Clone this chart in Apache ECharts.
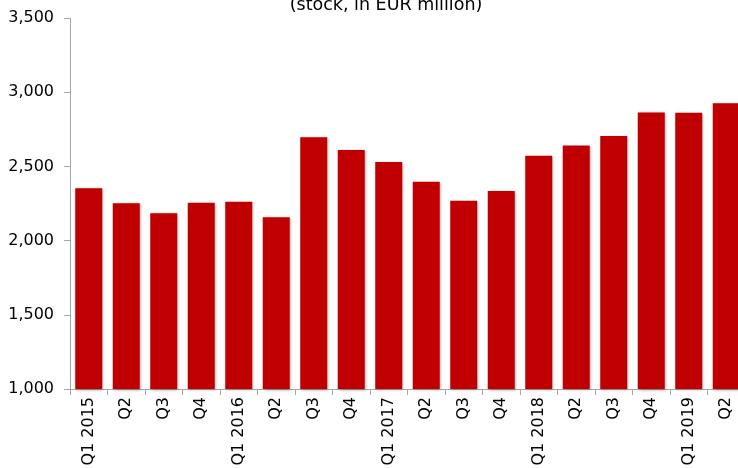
<!DOCTYPE html>
<html>
<head>
<meta charset="utf-8">
<script src="https://cdn.jsdelivr.net/npm/echarts@6/dist/echarts.min.js"></script>
<style>
  html, body { margin: 0; padding: 0; background: #fff; }
  #chart { width: 738px; height: 468px; }
</style>
</head>
<body>
<div id="chart"></div>
<script>
// quarterly stock, EUR million
const categories = ['Q1 2015', 'Q2', 'Q3', 'Q4', 'Q1 2016', 'Q2', 'Q3', 'Q4', 'Q1 2017',
  'Q2', 'Q3', 'Q4', 'Q1 2018', 'Q2', 'Q3', 'Q4', 'Q1 2019', 'Q2']
const values = [2352, 2251, 2184, 2255, 2262, 2157, 2696, 2610, 2530,
  2397, 2269, 2334, 2572, 2640, 2705, 2864, 2862, 2925]
const yTicks = [1000, 3500, 500] // min, max, step

const myChart = echarts.init(document.getElementById('chart'))
const font = 'DejaVu Sans'
myChart.setOption({
  animation: false,
  title: {
    text: '(stock, in EUR million)',
    left: 381,
    textAlign: 'center',
    top: -9,
    textStyle: { fontFamily: font, fontSize: 17.5, fontWeight: 'normal', color: '#000' }
  },
  // plot runs a little past the right edge, last bar is clipped
  grid: { left: 70, width: 675, top: 18, bottom: 79, containLabel: false, outerBoundsMode: 'none' },
  xAxis: {
    type: 'category',
    data: categories,
    axisLine: { lineStyle: { color: '#a6a6a6', width: 1 } },
    axisTick: { show: true, alignWithLabel: false, length: 6, lineStyle: { color: '#a6a6a6' } },
    axisLabel: {
      rotate: 90, interval: 0, margin: 8,
      fontFamily: font, fontSize: 16, color: '#000'
    }
  },
  yAxis: {
    type: 'value',
    min: yTicks[0],
    max: yTicks[1],
    interval: yTicks[2],
    splitLine: { show: false },
    axisLine: { show: true, lineStyle: { color: '#a6a6a6', width: 1 } },
    axisTick: { show: true, length: 6, lineStyle: { color: '#a6a6a6' } },
    axisLabel: {
      margin: 16, fontFamily: font, fontSize: 16, color: '#000',
      formatter: v => v.toLocaleString('en-US')
    }
  },
  series: [
    {
      type: 'bar',
      data: values,
      barCategoryGap: '28%',
      itemStyle: {
        color: '#c00000',
        shadowColor: 'rgba(0,0,0,0.35)',
        shadowBlur: 3,
        shadowOffsetX: 1,
        shadowOffsetY: 1
      }
    }
  ]
})
</script>
</body>
</html>
